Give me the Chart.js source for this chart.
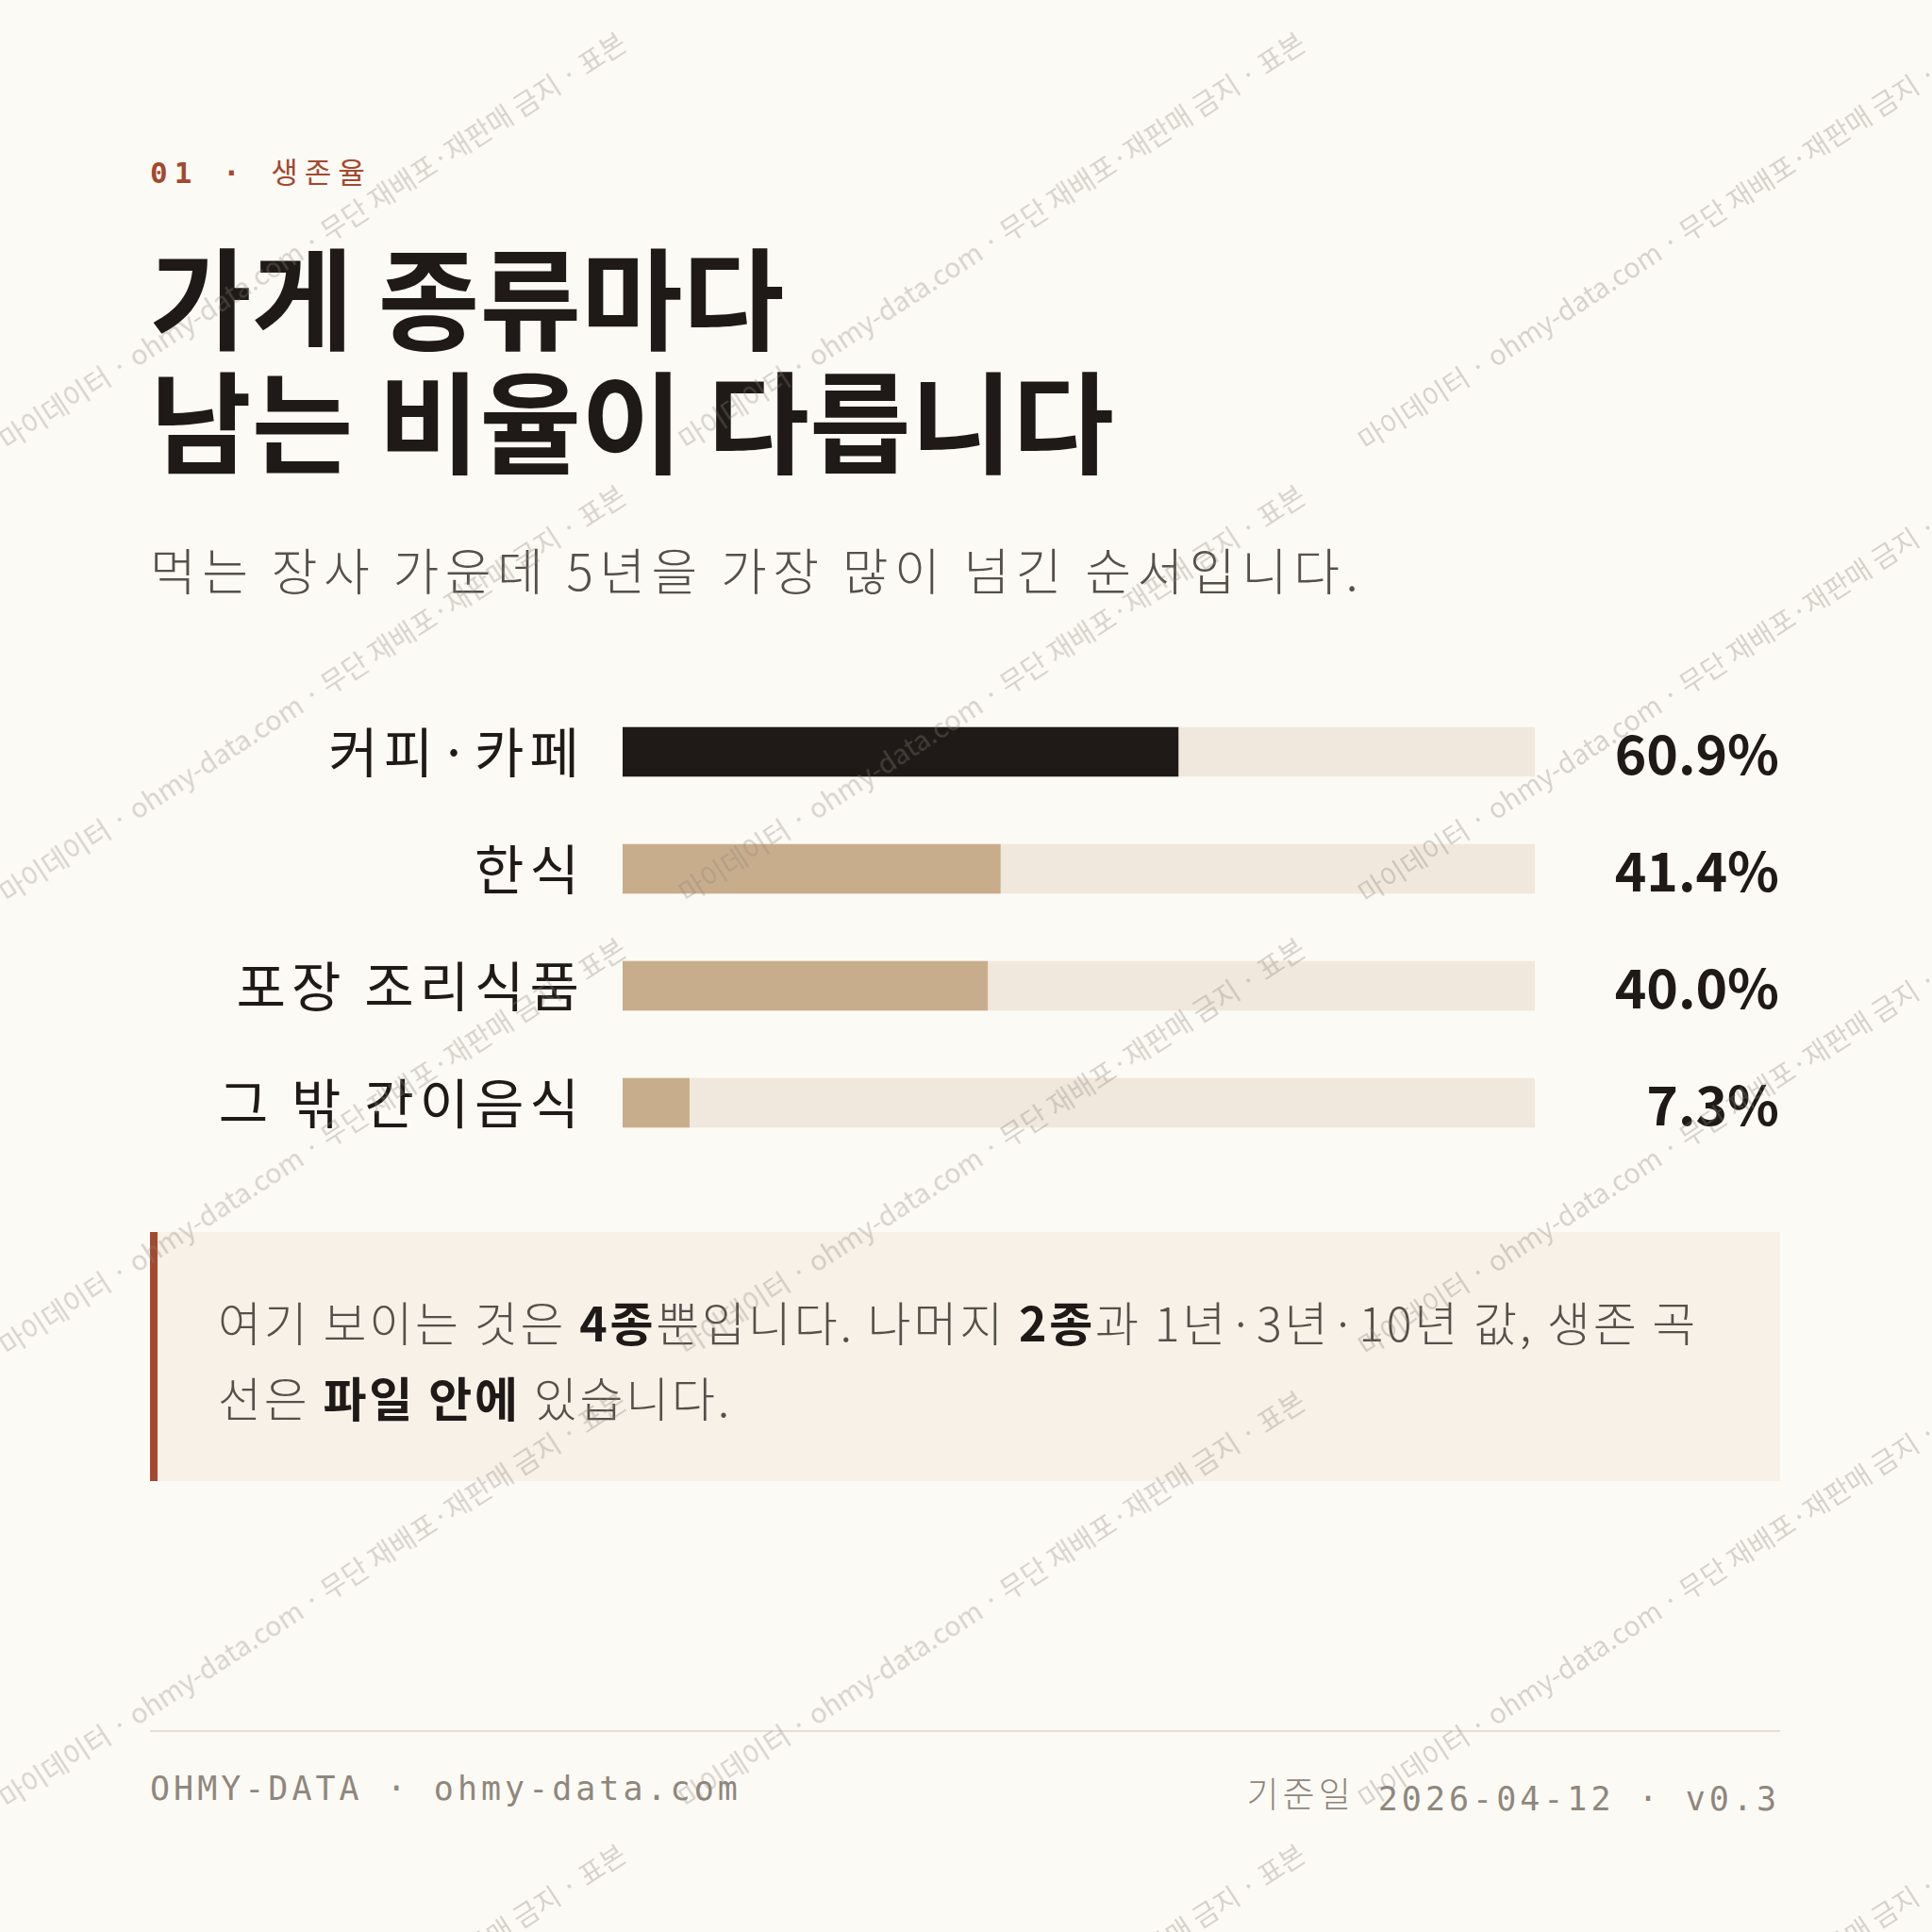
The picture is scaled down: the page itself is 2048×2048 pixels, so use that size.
<!DOCTYPE html>
<html><head><meta charset="utf-8">
<script src="https://cdn.jsdelivr.net/npm/chart.js@4"></script>
<style>
html,body{margin:0;padding:0;background:#fcfaf5;}
#page{position:relative;width:2048px;height:2048px;overflow:hidden;background:#fcfaf5;font-family:"Noto Sans CJK KR","Noto Sans",sans-serif;}
.abs{position:absolute;white-space:nowrap;}
#wm{position:absolute;left:0;top:0;width:2048px;height:2048px;pointer-events:none;z-index:5;}
.wmt{position:absolute;white-space:nowrap;font-size:29px;color:rgba(140,130,120,0.33);transform-origin:0 0;transform:rotate(-33deg);font-family:"Noto Sans CJK KR",sans-serif;}
</style></head><body>
<div id="page">
  <div class="abs" style="left:159px;top:158px;font-size:31px;color:#a3492f;letter-spacing:7px;"><span style="font-family:'DejaVu Sans Mono';font-weight:bold;">01 · </span><span>생존율</span></div>
  <div class="abs" style="left:159px;top:246px;font-size:117px;font-weight:bold;color:#1f1a17;line-height:131px;">가게 종류마다<br>남는 비율이 다릅니다</div>
  <div class="abs" style="left:159px;top:565px;font-size:53px;color:#555049;font-weight:300;letter-spacing:6.5px;">먹는 장사 가운데 5년을 가장 많이 넘긴 순서입니다.</div>
  <div class="abs" style="left:0;top:735px;width:2048px;height:496px;"><canvas id="c"></canvas></div>
  <div class="abs" style="left:159px;top:1306px;width:1728px;height:264px;background:#f7f1e8;border-left:8px solid #a3492f;box-sizing:border-box;"></div>
  <div class="abs" style="left:231px;top:1360px;font-size:50px;line-height:80px;color:#555049;font-weight:300;letter-spacing:2.8px;">여기 보이는 것은 <b style="color:#1f1a17;font-weight:bold;">4종</b>뿐입니다. 나머지 <b style="color:#1f1a17;font-weight:bold;">2종</b>과 1년·3년·10년 값, 생존 곡<br>선은 <b style="color:#1f1a17;font-weight:bold;">파일 안에</b> 있습니다.</div>
  <div class="abs" style="left:159px;top:1834px;width:1728px;height:2px;background:#e6ded2;"></div>
  <div class="abs" style="left:159px;top:1876px;font-size:35px;color:#8f877d;font-family:'DejaVu Sans Mono';letter-spacing:4px;">OHMY-DATA · ohmy-data.com</div>
  <div class="abs" style="right:161px;top:1876px;font-size:35px;color:#8f877d;font-family:'DejaVu Sans Mono';letter-spacing:4px;"><span style="font-family:'Noto Sans CJK KR';font-weight:300;font-size:37px;position:relative;top:-3px;">기준일</span> 2026-04-12 · v0.3</div>
  <div id="wm"></div>
</div>
<script>
const categories = ["커피·카페","한식","포장 조리식품","그 밖 간이음식"];
const values = [60.9,41.4,40.0,7.3];
const valueLabels = ["60.9%","41.4%","40.0%","7.3%"];
const trackMax = 100;
const barColors = ["#1f1a17","#c8ad8c","#c8ad8c","#c8ad8c"];

const labelPlugin = {
  id:'lbl',
  afterDatasetsDraw(chart){
    const ctx = chart.ctx, y = chart.scales.y;
    ctx.save();
    ctx.textBaseline='middle';
    categories.forEach((c,i)=>{
      const py = y.getPixelForValue(i);
      ctx.font='400 57px "Noto Sans CJK KR"';
      ctx.fillStyle='#1f1a17';
      ctx.textAlign='right';
      ctx.letterSpacing='6px';
      ctx.fillText(c,620,py);
      ctx.letterSpacing='0px';
      ctx.font='bold 57px "Noto Sans CJK KR"';
      ctx.fillText(valueLabels[i],1886,py+2);
    });
    ctx.restore();
  }
};
new Chart(document.getElementById('c'),{
  type:'bar',
  data:{labels:categories,datasets:[
    {data:values,backgroundColor:barColors,barThickness:52,grouped:false,order:1},
    {data:categories.map(()=>trackMax),backgroundColor:'#f0e8dc',barThickness:52,grouped:false,order:2}
  ]},
  options:{indexAxis:'y',responsive:true,maintainAspectRatio:false,animation:false,
    layout:{padding:{left:660,right:421,top:0,bottom:0}},
    plugins:{legend:{display:false},tooltip:{enabled:false}},
    scales:{x:{display:false,min:0,max:100},y:{display:false}}},
  plugins:[labelPlugin]
});
const wmText = "마이데이터 · ohmy-data.com · 무단 재배포·재판매 금지 · 표본";
const wm = document.getElementById('wm');
for(let r=-2;r<8;r++){
  for(let k=-1;k<4;k++){
    const d=document.createElement('div');d.className='wmt';d.textContent=wmText;
    d.style.left=(k*720 - 10)+'px';
    d.style.top=(r*480 + 450)+'px';
    wm.appendChild(d);
  }
}
</script>
</body></html>
